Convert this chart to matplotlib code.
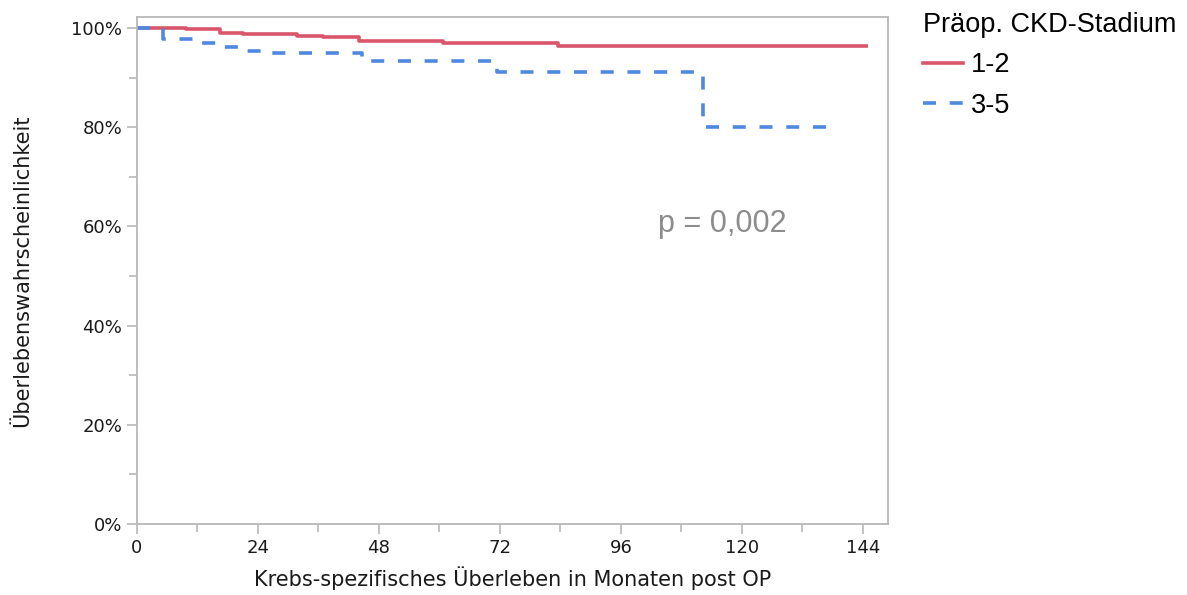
import matplotlib
matplotlib.use("Agg")
import matplotlib.pyplot as plt
from matplotlib.ticker import MultipleLocator, FuncFormatter
from matplotlib.lines import Line2D

# Data (months, survival %)
t_12 = [0, 9.8, 16.5, 21, 31.7, 37, 44, 60.7, 83.5, 145]
s_12 = [100, 99.7, 99.05, 98.7, 98.4, 98.2, 97.4, 97.0, 96.4, 96.4]
t_35 = [0, 5.2, 12, 16, 20.5, 25, 44.7, 71.4, 112.3, 137]
s_35 = [100, 97.7, 96.9, 96.1, 95.4, 94.9, 93.3, 91.2, 80.0, 80.0]
legend_title = "Präop. CKD-Stadium"
labels = ["1-2", "3-5"]
x_ticks = [0, 24, 48, 72, 96, 120, 144]
y_ticks = [0, 20, 40, 60, 80, 100]

red = "#d9566a"
blue = "#4f88e0"
gray = "#b8b8b8"
LW = 2.6
DASH = (0, (3.6, 3.8))

fig = plt.figure(figsize=(11.87, 5.95), dpi=100)
ax = fig.add_axes([137/1187, 1-524/595, (888-137)/1187, (524-17)/595])

ax.step(t_12, s_12, where="post", color=red, lw=LW, solid_capstyle="butt")
ax.step(t_35, s_35, where="post", color=blue, lw=LW, linestyle=DASH)

ax.set_xlim(0, 149)
ax.set_ylim(0, 102.2)
ax.set_xticks(x_ticks)
ax.xaxis.set_minor_locator(MultipleLocator(12))
ax.set_yticks(y_ticks)
ax.yaxis.set_minor_locator(MultipleLocator(10))
ax.yaxis.set_major_formatter(FuncFormatter(lambda v, p: f"{int(v)}%"))

for s in ax.spines.values():
    s.set_color(gray)
    s.set_linewidth(1.3)
ax.tick_params(which="both", direction="out", color=gray, width=1.2, labelsize=13,
               labelcolor="#1a1a1a")
ax.tick_params(which="major", length=7)
ax.tick_params(which="minor", length=6)

ax.set_xlabel("Krebs-spezifisches Überleben in Monaten post OP", fontsize=15, color="#1a1a1a", labelpad=7)
ax.set_ylabel("Überlebenswahrscheinlichkeit", fontsize=15, color="#1a1a1a", labelpad=28)

fig.text(722/1187, 1-224/595, "p = 0,002", fontsize=22, color="#8c8c8c",
         ha="center", va="center", family="Liberation Sans")

handles = [Line2D([], [], color=red, lw=LW),
           Line2D([], [], color=blue, lw=LW, linestyle=DASH)]
leg = fig.legend(handles, labels, title=legend_title, loc="upper left",
                 bbox_to_anchor=(899/1187, 1+12/595), frameon=False,
                 prop={"family": "Liberation Sans", "size": 19.5},
                 title_fontproperties={"family": "Liberation Sans", "size": 19.5},
                 handlelength=1.45, handletextpad=0.3, labelspacing=0.52,
                 alignment="left")

fig.savefig("out.png", dpi=100)
